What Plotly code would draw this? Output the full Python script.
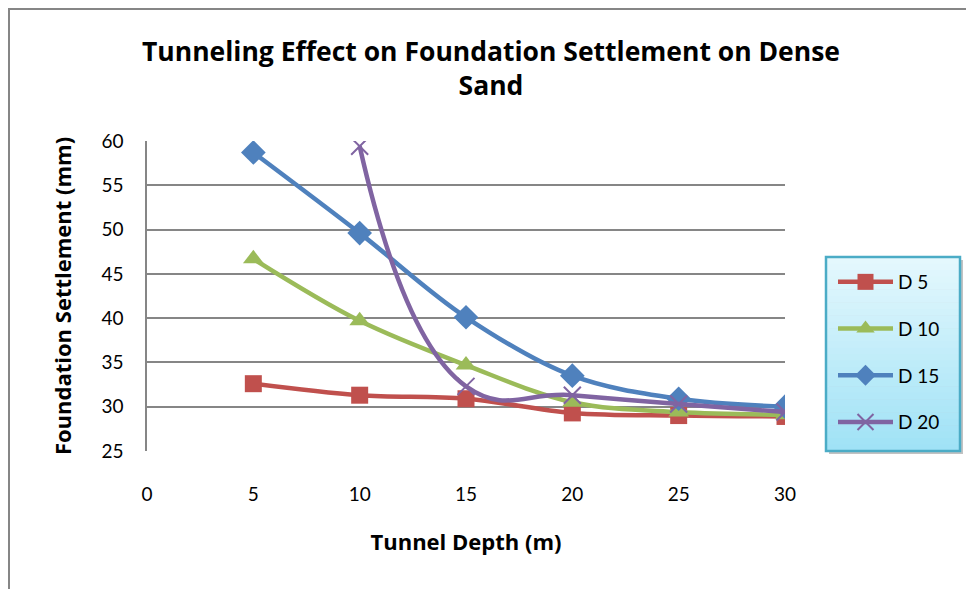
import plotly.graph_objects as go

# Tunnel depth (m) and foundation settlement (mm) for each tunnel diameter
depth = [5, 10, 15, 20, 25, 30]
d5 = [32.6, 31.3, 30.9, 29.3, 29.0, 28.9]
d10 = [46.7, 39.7, 34.7, 30.5, 29.4, 29.1]
d15 = [58.7, 49.6, 40.1, 33.5, 30.9, 30.0]
d20 = [None, 59.4, 32.3, 31.3, 30.3, 29.4]

series_names = ["D 5", "D 10", "D 15", "D 20"]
series_values = [d5, d10, d15, d20]
colors = ["#C0504D", "#9BBB59", "#4F81BD", "#8064A2"]
symbols = ["square", "triangle-up", "diamond", "x-thin"]
marker_sizes = [17, 18, 19, 17]
smoothing = [1.0, 1.0, 1.0, 1.3]

x_ticks = [0, 5, 10, 15, 20, 25, 30]
y_ticks = [25, 30, 35, 40, 45, 50, 55, 60]

FONT = "Lato"
TITLE_FONT = "Open Sans"

fig = go.Figure()
for name, vals, col, sym, ms, sm in zip(series_names, series_values, colors,
                                        symbols, marker_sizes, smoothing):
    marker = dict(symbol=sym, size=ms, color=col)
    if sym == "x-thin":
        marker["line"] = dict(color=col, width=2)
    fig.add_trace(go.Scatter(
        x=depth, y=vals, name=name, mode="lines+markers",
        line=dict(color=col, width=4.5, shape="spline", smoothing=sm),
        marker=marker, connectgaps=False, legendgroup=name,
    ))

# plot-area geometry in pixels, used to place frame and legend box
L, R, T, B = 147, 785, 141, 451
W, H = R - L, B - T


def px(x):
    return (x - L) / W


def py(y):
    return (B - y) / H


shapes = []
# outer chart frame
shapes.append(dict(type="rect", xref="paper", yref="paper",
                   x0=px(9), x1=px(990), y0=py(9), y1=py(610),
                   line=dict(color="#868686", width=2), fillcolor="rgba(0,0,0,0)",
                   layer="below"))

# legend box: drop shadow, vertical gradient, border
lx0, lx1, ly0, ly1 = 826, 960, 257, 451
shapes.append(dict(type="rect", xref="paper", yref="paper",
                   x0=px(lx0 + 3), x1=px(lx1 + 3), y0=py(ly0 + 3), y1=py(ly1 + 3),
                   line=dict(width=0), fillcolor="rgba(120,120,120,0.45)", layer="above"))
nstrips = 30
top_c = (228, 248, 253)
bot_c = (160, 226, 246)
for i in range(nstrips):
    t = i / (nstrips - 1)
    c = tuple(int(round(top_c[k] + (bot_c[k] - top_c[k]) * t)) for k in range(3))
    y0 = ly0 + (ly1 - ly0) * i / nstrips
    y1 = ly0 + (ly1 - ly0) * (i + 1) / nstrips
    shapes.append(dict(type="rect", xref="paper", yref="paper",
                       x0=px(lx0), x1=px(lx1), y0=py(y0), y1=py(y1 + 0.5),
                       line=dict(width=0), fillcolor="rgb(%d,%d,%d)" % c, layer="above"))
shapes.append(dict(type="rect", xref="paper", yref="paper",
                   x0=px(lx0), x1=px(lx1), y0=py(ly0), y1=py(ly1),
                   line=dict(color="#4BACC6", width=2.5), fillcolor="rgba(0,0,0,0)",
                   layer="above"))

fig.update_layout(
    width=966, height=589,
    margin=dict(l=L, r=966 - R, t=T, b=589 - B),
    paper_bgcolor="white", plot_bgcolor="white",
    font=dict(family=FONT, color="black"),
    shapes=shapes,
    showlegend=True,
    legend=dict(
        x=px(lx0 + 7), y=py(ly0 + 6), xanchor="left", yanchor="top",
        bgcolor="rgba(0,0,0,0)", borderwidth=0,
        font=dict(size=19, family=FONT, color="black"),
        tracegroupgap=19, itemwidth=55,
    ),
    xaxis=dict(
        range=[0, 30], tickvals=x_ticks, ticktext=[str(v) for v in x_ticks],
        showgrid=False, zeroline=False, showline=False,
        ticks="outside", ticklen=26, tickcolor="rgba(0,0,0,0)",
        tickfont=dict(size=19, family=FONT),
        title=dict(text="<b>Tunnel Depth (m)</b>", font=dict(size=22, family=TITLE_FONT), standoff=30),
    ),
    yaxis=dict(
        range=[25, 60], tickvals=y_ticks, ticktext=[str(v) for v in y_ticks],
        showgrid=True, gridcolor="#868686", gridwidth=1.5,
        zeroline=False, showline=True, linecolor="#868686", linewidth=1.5,
        ticks="outside", ticklen=18, tickcolor="rgba(0,0,0,0)",
        tickfont=dict(size=19, family=FONT),
        title=dict(text="<b>Foundation Settlement (mm)</b>", font=dict(size=22, family=TITLE_FONT), standoff=24),
    ),
    annotations=[dict(
        text="<b>Tunneling Effect on Foundation Settlement on Dense<br>Sand</b>",
        xref="paper", yref="paper", x=px(491), y=py(31), xanchor="center", yanchor="top",
        showarrow=False, font=dict(size=26.5, family=TITLE_FONT, color="black"),
    )],
)

fig.write_html("out.html")
